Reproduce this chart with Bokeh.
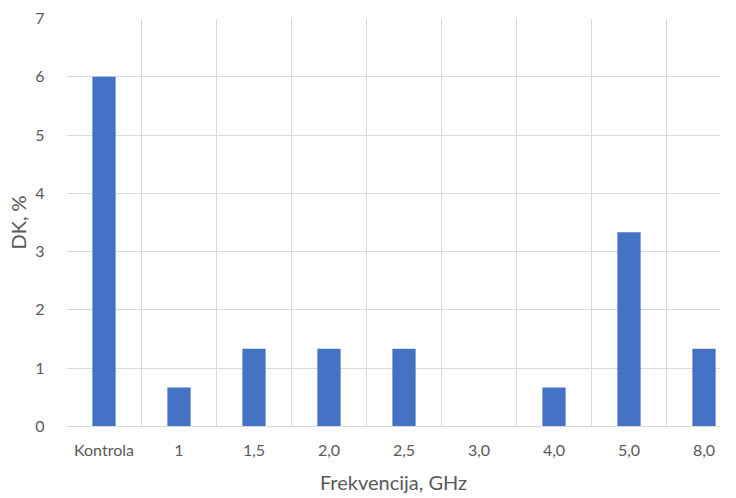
from bokeh.plotting import figure
from bokeh.models import Range1d, FixedTicker, ColumnDataSource
from bokeh.embed import file_html
from bokeh.resources import INLINE

categories = ["Kontrola", "1", "1,5", "2,0", "2,5", "3,0", "4,0", "5,0", "8,0"]
values = [6.0, 0.667, 1.333, 1.333, 1.333, 0.0, 0.667, 3.333, 1.333]
y_ticks = [0, 1, 2, 3, 4, 5, 6, 7]

xs = [i + 0.5 for i in range(len(categories))]
src = ColumnDataSource(dict(x=xs, top=values, cat=categories))

TEXT = "#595959"
GRID = "#d9d9d9"
FONT = "Lato"

p = figure(width=720, height=496, output_backend="svg", toolbar_location=None,
           x_range=Range1d(0, 8.72), y_range=Range1d(0, 7))
p.min_border_left = 66
p.min_border_top = 18
p.min_border_right = 0
p.min_border_bottom = 0
p.outline_line_color = None
p.background_fill_color = "white"
p.border_fill_color = "white"

p.vbar(x="x", top="top", width=0.31, source=src, fill_color="#4472C4", line_color=None)

p.xaxis.ticker = FixedTicker(ticks=xs)
p.xaxis.major_label_overrides = {x: c for x, c in zip(xs, categories)}
p.xgrid.ticker = FixedTicker(ticks=list(range(len(categories) + 1)))
p.yaxis.ticker = FixedTicker(ticks=y_ticks)

for g in (p.xgrid, p.ygrid):
    g.grid_line_color = GRID
    g.grid_line_width = 1

p.xaxis.axis_line_color = GRID
p.yaxis.axis_line_color = None
for ax in (p.xaxis, p.yaxis):
    ax.major_tick_line_color = None
    ax.minor_tick_line_color = None
    ax.major_label_text_color = TEXT
    ax.major_label_text_font = FONT
    ax.major_label_text_font_size = "16px"
    ax.axis_label_text_color = TEXT
    ax.axis_label_text_font = FONT
    ax.axis_label_text_font_size = "20px"
    ax.axis_label_text_font_style = "normal"

p.xaxis.axis_label = "Frekvencija, GHz"
p.yaxis.axis_label = "DK, %"
p.xaxis.major_label_standoff = 7
p.yaxis.major_label_standoff = 16
p.xaxis.axis_label_standoff = 8
p.yaxis.axis_label_standoff = 2

open("out.html", "w").write(file_html(p, INLINE))
